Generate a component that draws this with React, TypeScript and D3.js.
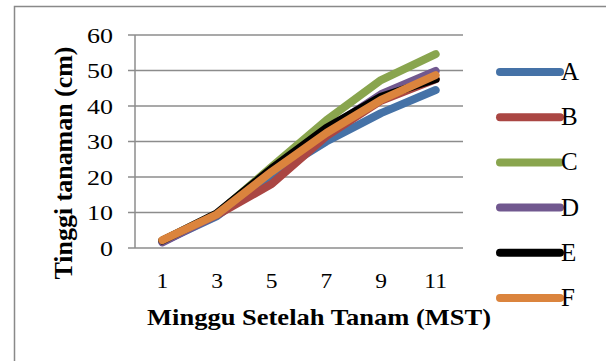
import React from "react";
import * as d3 from "d3";

// Weeks after planting (MST)
const weeks = ["1", "3", "5", "7", "9", "11"];
const yTicks = [0, 10, 20, 30, 40, 50, 60];

// Plant height (cm) per treatment
const seriesA = [1.8, 9.0, 20.5, 30.0, 38.0, 44.5];
const seriesB = [2.0, 9.3, 18.0, 31.5, 41.5, 47.5];
const seriesC = [2.0, 9.6, 22.9, 36.0, 47.3, 54.6];
const seriesD = [1.6, 9.4, 22.0, 33.2, 43.3, 49.9];
const seriesE = [2.1, 9.8, 22.4, 33.8, 42.6, 47.6];
const seriesF = [2.2, 9.5, 21.5, 32.4, 41.7, 48.7];

const seriesNames = ["A", "B", "C", "D", "E", "F"];
const seriesValues = [seriesA, seriesB, seriesC, seriesD, seriesE, seriesF];
const seriesColors = ["#4572A7", "#AA4643", "#89A54E", "#71588F", "#000000", "#DB843D"];

const W = 606;
const H = 361;
const plot = { left: 135, right: 463, top: 35, bottom: 248 };
const font = "'Liberation Serif', 'Times New Roman', serif";

export default function App() {
  const x = d3
    .scaleBand<string>()
    .domain(weeks)
    .range([plot.left, plot.right]);
  const y = d3.scaleLinear().domain([0, 60]).range([plot.bottom, plot.top]);
  const cx = (w: string) => (x(w) as number) + x.bandwidth() / 2;

  const line = d3
    .line<number>()
    .x((_, i) => cx(weeks[i]))
    .y((v) => y(v));

  const legendX0 = 500;
  const legendX1 = 560;
  const legendY = d3.scalePoint<string>().domain(seriesNames).range([72, 298]);

  return (
    <svg
      width={W}
      height={H}
      style={{ position: "absolute", left: 0, top: 0, background: "#fff" }}
      fontFamily={font}
    >
      <rect x={14.5} y={6.5} width={620} height={420} fill="#fff" stroke="#898989" strokeWidth={1.5} />

      {/* gridlines and value axis */}
      {yTicks.map((t) => (
        <g key={t}>
          <line x1={plot.left - 7} x2={plot.right} y1={y(t)} y2={y(t)} stroke="#8c8c8c" strokeWidth={1.5} />
          <text
            transform={`translate(113,${y(t) + 7.5}) scale(1.18,1)`}
            textAnchor="end"
            fontSize={22}
            fill="#000"
          >
            {t}
          </text>
        </g>
      ))}
      <line x1={plot.left} x2={plot.left} y1={plot.top} y2={plot.bottom} stroke="#8c8c8c" strokeWidth={1.5} />

      {/* category labels */}
      {weeks.map((w) => (
        <text
          key={w}
          transform={`translate(${cx(w)},288) scale(1.12,1)`}
          textAnchor="middle"
          fontSize={21}
          fill="#000"
        >
          {w}
        </text>
      ))}

      {/* series */}
      {seriesValues.map((vals, i) => (
        <path
          key={seriesNames[i]}
          d={line(vals) as string}
          fill="none"
          stroke={seriesColors[i]}
          strokeWidth={8}
          strokeLinecap="round"
          strokeLinejoin="round"
        />
      ))}

      {/* axis titles */}
      <text
        transform={`translate(72,163) rotate(-90)`}
        textAnchor="middle"
        fontSize={25}
        fontWeight="bold"
        fill="#000"
        textLength={233}
        lengthAdjust="spacingAndGlyphs"
      >
        Tinggi tanaman (cm)
      </text>
      <text
        x={319}
        y={325}
        textAnchor="middle"
        fontSize={23}
        fontWeight="bold"
        fill="#000"
        textLength={344}
        lengthAdjust="spacingAndGlyphs"
      >
        Minggu Setelah Tanam (MST)
      </text>

      {/* legend */}
      {seriesNames.map((n, i) => {
        const ly = legendY(n) as number;
        return (
          <g key={n}>
            <line
              x1={legendX0}
              x2={legendX1}
              y1={ly}
              y2={ly}
              stroke={seriesColors[i]}
              strokeWidth={8}
              strokeLinecap="round"
            />
            <text x={legendX1 + 1} y={ly + 8} fontSize={25} fill="#000">
              {n}
            </text>
          </g>
        );
      })}
    </svg>
  );
}
